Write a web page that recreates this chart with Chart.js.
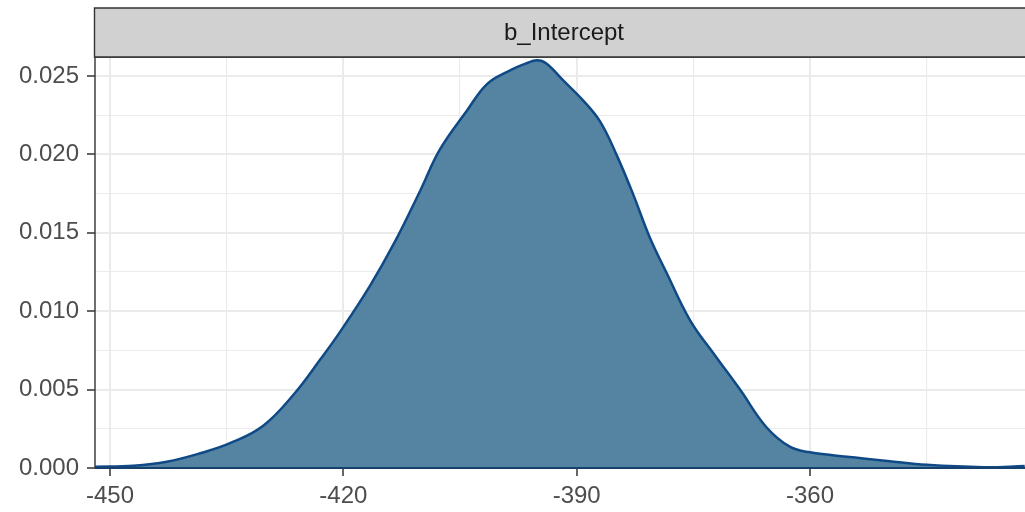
<!DOCTYPE html>
<html><head><meta charset="utf-8">
<script src="https://cdn.jsdelivr.net/npm/chart.js@4/dist/chart.umd.min.js"></script>
<style>html,body{margin:0;padding:0;background:#fff;overflow:hidden}#wrap{width:1025px;height:512px}</style>
</head><body><div id="wrap"><canvas id="c" width="1025" height="512"></canvas></div>
<script>
const stripLabel = 'b_Intercept';
const densityX = [-451.9,-447,-442.7,-438.4,-434.5,-430.3,-426.2,-423,-420.4,-416.6,-413.4,-410.1,-407.6,-404.1,-401.5,-398.8,-396.5,-395.1,-393.9,-391.7,-389.1,-387,-384.9,-382.7,-380.6,-378.4,-375.4,-372.4,-369,-365.6,-362.6,-360,-354.9,-350,-345,-337.7,-332.4];
const densityY = [0.00008,0.00015,0.0004,0.00094,0.0016,0.0027,0.0048,0.0069,0.0087,0.0116,0.0144,0.0177,0.0203,0.0228,0.0245,0.0253,0.0258,0.0260,0.0258,0.0247,0.0234,0.0221,0.0200,0.0174,0.0147,0.0124,0.0094,0.0073,0.0050,0.0026,0.00136,0.0010,0.0007,0.00045,0.0002,0.00005,0.00012];
const xMajorTicks = [-450,-420,-390,-360];
const xMinorTicks = [-435,-405,-375,-345];
const yMajorTicks = [0,0.005,0.01,0.015,0.02,0.025];
const yMinorTicks = [0.0025,0.0075,0.0125,0.0175,0.0225];
const xRange = [-451.93,-332.36];
const yRange = [0,0.02621];

const FONT = '"Liberation Sans", Arial, Helvetica, sans-serif';
const isMajor = (list, v) => list.some(m => Math.abs(m - v) < 1e-9);

const panelPlugin = {
  id: 'panel',
  afterDatasetsDraw(chart) {
    const {ctx, chartArea: a} = chart;
    ctx.save();
    ctx.strokeStyle = '#333333';
    ctx.lineWidth = 1.4;
    ctx.beginPath();
    ctx.moveTo(a.right + 5, a.top);
    ctx.lineTo(a.left, a.top);
    ctx.lineTo(a.left, a.bottom);
    ctx.stroke();
    ctx.strokeStyle = '#16416f';
    ctx.lineWidth = 2;
    ctx.beginPath();
    ctx.moveTo(a.left, a.bottom);
    ctx.lineTo(a.right + 5, a.bottom);
    ctx.stroke();
    // strip
    const top = 8;
    ctx.fillStyle = '#d1d1d1';
    ctx.fillRect(a.left - 1, top, a.right - a.left + 10, a.top - top);
    ctx.strokeStyle = '#333333';
    ctx.lineWidth = 1.4;
    ctx.beginPath();
    ctx.moveTo(a.right + 5, top);
    ctx.lineTo(a.left - 0.5, top);
    ctx.lineTo(a.left - 0.5, a.top);
    ctx.lineTo(a.right + 5, a.top);
    ctx.stroke();
    ctx.fillStyle = '#1a1a1a';
    ctx.font = '24px ' + FONT;
    ctx.textAlign = 'center';
    ctx.textBaseline = 'middle';
    ctx.fillText(stripLabel, (a.left + a.right) / 2 + 4, (top + a.top) / 2 + 1);
    ctx.restore();
  }
};

new Chart(document.getElementById('c'), {
  type: 'line',
  data: {
    datasets: [{
      data: densityX.map((x, i) => ({x, y: densityY[i]})),
      borderColor: '#0f4a87',
      backgroundColor: '#5584a2',
      borderWidth: 2.5,
      fill: 'origin',
      pointRadius: 0,
      tension: 0.4
    }]
  },
  options: {
    responsive: false,
    animation: false,
    devicePixelRatio: 1,
    layout: {padding: {top: 57, left: 0, right: 0, bottom: 0}},
    plugins: {legend: {display: false}, tooltip: {enabled: false}},
    scales: {
      x: {
        type: 'linear',
        min: xRange[0], max: xRange[1],
        afterFit(s) { s.height = 44; },
        afterBuildTicks(s) { s.ticks = [...xMajorTicks, ...xMinorTicks].sort((a,b)=>a-b).map(v => ({value: v})); },
        border: {display: false},
        grid: {
          color: '#ebebeb',
          lineWidth: c => isMajor(xMajorTicks, c.tick.value) ? 2 : 1.1,
          drawTicks: true,
          tickLength: 8,
          tickColor: c => isMajor(xMajorTicks, c.tick.value) ? '#333333' : 'rgba(0,0,0,0)',
          tickWidth: 1.5
        },
        ticks: {
          autoSkip: false,
          maxRotation: 0,
          padding: 6,
          color: '#4d4d4d',
          font: {family: FONT, size: 24},
          callback: v => isMajor(xMajorTicks, v) ? String(v) : ''
        }
      },
      y: {
        type: 'linear',
        min: yRange[0], max: yRange[1],
        afterFit(s) { s.width = 95; },
        afterBuildTicks(s) { s.ticks = [...yMajorTicks, ...yMinorTicks].sort((a,b)=>a-b).map(v => ({value: v})); },
        border: {display: false},
        grid: {
          color: '#ebebeb',
          lineWidth: c => isMajor(yMajorTicks, c.tick.value) ? 2 : 1.1,
          drawTicks: true,
          tickLength: 8,
          tickColor: c => isMajor(yMajorTicks, c.tick.value) ? '#333333' : 'rgba(0,0,0,0)',
          tickWidth: 1.5
        },
        ticks: {
          autoSkip: false,
          padding: 8,
          color: '#4d4d4d',
          font: {family: FONT, size: 24},
          callback: v => isMajor(yMajorTicks, v) ? v.toFixed(3) : ''
        }
      }
    }
  },
  plugins: [panelPlugin]
});
</script>
</body></html>
